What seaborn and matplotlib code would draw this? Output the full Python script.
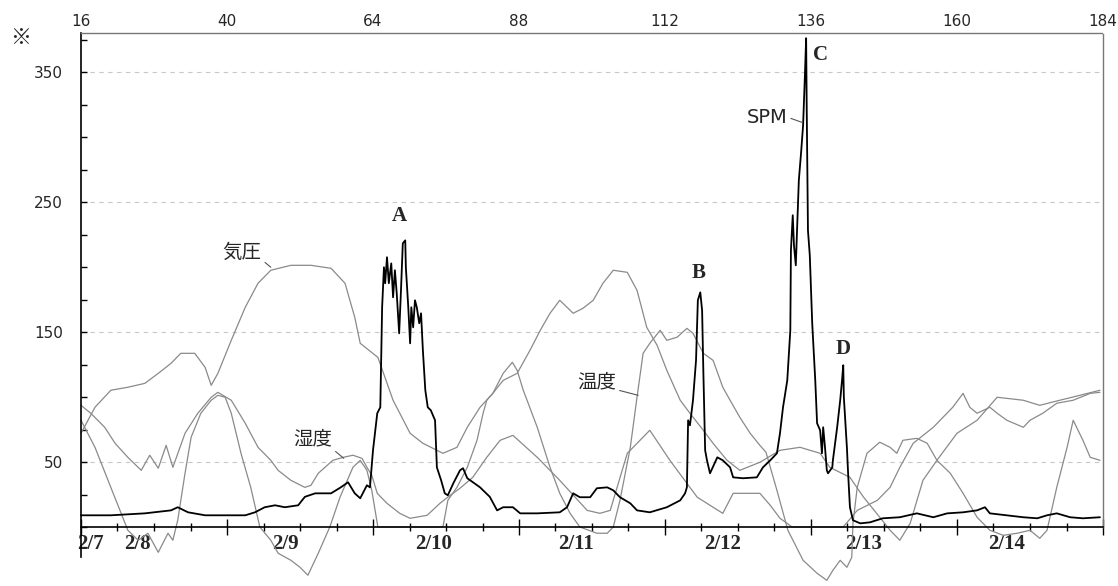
import numpy as np
import matplotlib
matplotlib.use("Agg")
import matplotlib.pyplot as plt
import seaborn as sns

# ---------------- data (hours on the top axis, values on the left axis) ----------------
pressure_h = [16.0, 18.3, 20.9, 23.7, 26.5, 28.7, 30.8, 32.4, 34.7, 36.4,
              37.4, 38.5, 40.7, 43.0, 45.1, 47.2, 50.5, 53.8, 57.1, 59.4,
              61.0, 61.9, 64.8, 67.3, 70.1, 72.2, 75.5, 77.8, 79.5, 81.6,
              83.7, 85.4, 87.7, 89.8, 91.5, 93.1, 94.7, 95.9, 96.9, 98.5,
              100.2, 101.8, 103.5, 105.8, 107.4, 109.0, 110.7, 112.3, 114.5, 116.1,
              118.3, 119.9, 122.2, 124.3, 127.6, 130.9, 134.2, 137.5, 139.1, 142.4,
              144.6, 147.3, 149.0, 150.6, 152.3, 154.4, 156.7, 160.0, 163.3, 166.6,
              170.9, 173.6, 176.9, 180.2, 183.5]
pressure_v = [72.1, 92.1, 105.2, 107.5, 110.5, 118.2, 125.9, 133.6, 133.6, 122.8,
              109.0, 118.2, 143.6, 169.0, 187.5, 197.5, 201.3, 201.3, 199.0, 187.5,
              161.3, 141.3, 130.5, 97.5, 72.1, 64.4, 56.7, 61.3, 76.7, 92.1,
              102.8, 112.8, 118.2, 135.9, 151.3, 164.4, 174.4, 169.0, 164.4, 168.2,
              174.4, 187.5, 197.5, 195.9, 182.1, 153.6, 139.8, 120.5, 97.5, 87.5,
              74.4, 64.4, 51.3, 43.6, 49.8, 59.0, 61.3, 56.7, 45.9, 38.2,
              23.2, 7.5, -2.5, -10.2, 2.8, 35.9, 51.3, 72.1, 82.1, 99.8,
              97.5, 93.6, 97.5, 101.3, 105.2]

temp_h = [16.0, 18.3, 20.9, 22.6, 23.7, 25.4, 27.0, 28.7, 30.3, 31.1,
          31.9, 33.1, 34.1, 35.7, 37.4, 38.5, 39.7, 40.7, 42.3, 43.9,
          45.4, 47.2, 48.4, 50.5, 52.0, 53.3, 55.0, 56.9, 58.6, 60.7,
          61.9, 63.0, 63.8, 64.8, 75.5, 76.3, 77.8, 79.5, 81.1, 82.1,
          82.7, 83.7, 85.4, 86.9, 87.7, 88.7, 91.0, 93.1, 94.7, 96.4,
          98.0, 100.8, 102.5, 103.5, 104.6, 106.3, 107.4, 108.4, 109.5, 111.2,
          112.3, 114.0, 115.6, 116.6, 118.3, 119.9, 121.5, 122.7, 124.3, 126.0,
          127.6, 128.6, 130.4, 132.2, 134.7, 137.0, 138.6, 139.6, 140.8, 141.9,
          142.7, 142.9, 143.6, 145.2, 147.3, 149.0, 150.1, 151.1, 153.4, 155.1,
          156.7, 158.9, 161.0, 163.3, 165.4, 167.6, 169.9, 172.0, 173.6, 174.8,
          176.4, 178.1, 179.1, 180.7, 181.9, 183.5]
temp_v = [82.1, 61.3, 30.5, 10.5, -2.5, -10.2, -4.8, -19.5, -4.8, -10.2,
          5.2, 41.3, 69.0, 87.5, 97.5, 101.3, 99.8, 87.5, 56.7, 30.5,
          0, -10.2, -20.2, -25.6, -31.0, -37.1, -20.2, 0, 23.2, 45.9,
          51.3, 43.6, 28.2, 0, 0, 20.5, 30.5, 45.9, 66.7, 87.5,
          97.5, 102.8, 118.2, 126.7, 120.5, 105.2, 76.7, 45.9, 25.9, 10.5,
          0, -4.8, -4.8, 0, 20.5, 61.3, 99.8, 133.6, 141.3, 151.3,
          143.6, 146.0, 152.8, 149.0, 133.6, 128.2, 107.5, 97.5, 84.4, 72.1,
          62.8, 57.5, 28.2, -2.5, -25.6, -35.6, -41.0, -33.3, -25.6, -31.0,
          -23.3, 2.8, 30.5, 56.7, 65.2, 61.3, 56.7, 66.7, 68.2, 64.4,
          51.3, 41.3, 25.9, 7.5, -2.5, -6.4, -4.8, -2.5, -8.7, -2.5,
          30.5, 61.3, 82.1, 66.7, 53.6, 51.3]

hum_h = [16.0, 17.6, 19.9, 21.6, 23.7, 25.9, 27.3, 28.7, 30.0, 31.1,
         33.1, 35.2, 37.4, 38.5, 40.7, 43.0, 45.1, 47.2, 48.4, 50.5,
         52.8, 53.8, 55.0, 57.4, 59.1, 60.7, 62.2, 63.0, 63.8, 64.7,
         66.3, 68.4, 70.1, 72.9, 75.0, 76.7, 78.3, 80.4, 82.7, 84.9,
         87.0, 91.0, 94.7, 99.2, 101.3, 103.0, 105.8, 109.5, 112.8, 117.3,
         121.5, 123.2, 127.6, 129.3, 130.9, 132.9, 141.3, 143.6, 146.9, 149.0,
         150.6, 152.8, 156.1, 157.7, 159.3, 161.0, 162.1, 163.3, 165.4, 166.6,
         168.2, 170.9, 172.0, 174.1, 176.4, 179.1, 181.9, 183.5]
hum_v = [93.6, 87.5, 76.7, 64.4, 53.6, 43.6, 55.2, 45.2, 62.8, 45.9,
         72.1, 87.5, 99.8, 103.6, 97.5, 79.8, 61.3, 51.3, 43.6, 35.9,
         30.5, 32.1, 41.3, 51.3, 53.6, 55.2, 52.8, 45.9, 39.8, 25.9,
         18.2, 10.5, 6.7, 9.0, 18.2, 24.4, 29.8, 38.2, 53.6, 66.7,
         70.5, 53.6, 35.9, 12.8, 10.5, 12.8, 56.7, 74.4, 51.3, 22.9,
         10.5, 25.9, 25.9, 16.7, 6.7, 0, 0, 12.8, 20.5, 30.5,
         45.9, 64.4, 76.7, 84.4, 92.1, 102.8, 92.1, 87.5, 92.1, 87.5,
         82.1, 76.7, 82.1, 87.5, 95.2, 97.5, 102.8, 103.6]

spm_h = [16.0, 20.9, 26.5, 30.8, 31.9, 33.6, 36.4, 43.0, 44.6, 46.2,
         47.9, 49.5, 51.7, 52.8, 54.5, 57.1, 58.7, 59.9, 61.0, 61.9,
         63.0, 63.5, 64.0, 64.7, 65.2, 65.5, 65.8, 66.0, 66.3, 66.6,
         67.0, 67.3, 67.6, 67.9, 68.3, 68.6, 68.9, 69.3, 69.4, 69.8,
         70.1, 70.3, 70.6, 70.9, 71.2, 71.6, 71.9, 72.2, 72.6, 73.0,
         73.5, 74.2, 74.5, 75.2, 75.8, 76.3, 77.2, 78.3, 78.8, 79.5,
         81.6, 83.2, 84.4, 85.4, 87.0, 88.2, 91.0, 94.7, 95.9, 96.9,
         98.0, 99.7, 100.8, 102.5, 103.5, 104.6, 106.3, 107.4, 109.5, 112.3,
         114.5, 115.3, 115.6, 115.8, 116.1, 116.6, 117.1, 117.4, 117.8, 118.1,
         118.3, 118.6, 118.9, 119.4, 120.6, 121.5, 122.7, 123.2, 124.8, 127.1,
         128.1, 129.3, 130.4, 130.9, 131.4, 132.1, 132.6, 132.7, 133.0, 133.2,
         133.5, 133.7, 134.0, 134.4, 134.7, 135.0, 135.2, 135.3, 135.5, 135.8,
         136.2, 136.7, 137.0, 137.5, 137.8, 138.0, 138.3, 138.6, 138.8, 139.5,
         139.6, 140.3, 140.8, 141.1, 141.3, 141.4, 141.9, 142.1, 142.4, 142.9,
         144.1, 145.7, 147.8, 150.6, 153.4, 156.1, 158.4, 161.0, 163.3, 164.6,
         165.4, 168.2, 170.9, 173.2, 174.8, 176.4, 178.6, 180.7, 183.5]
spm_v = [9.0, 9.0, 10.5, 12.8, 15.2, 11.3, 9.0, 9.0, 11.3, 15.2,
         16.7, 15.2, 16.7, 23.2, 25.9, 25.9, 30.5, 34.4, 25.9, 22.1,
         32.1, 30.5, 59.0, 87.5, 92.1, 169.0, 199.8, 187.5, 207.5, 187.5,
         202.8, 176.7, 197.5, 179.8, 149.0, 182.1, 218.2, 220.5, 199.8, 169.0,
         141.3, 169.0, 153.6, 174.4, 169.0, 156.7, 164.4, 135.9, 105.2, 92.1,
         89.8, 82.1, 45.9, 35.9, 25.9, 24.4, 33.6, 43.6, 45.2, 37.5,
         30.5, 23.2, 12.8, 15.2, 15.2, 10.5, 10.5, 11.3, 15.2, 25.9,
         22.9, 22.9, 29.8, 30.5, 28.2, 22.9, 18.2, 12.8, 11.3, 15.2,
         20.5, 25.9, 30.5, 82.1, 78.2, 97.5, 128.2, 174.4, 180.5, 166.7,
         120.5, 59.0, 51.3, 41.3, 53.6, 51.3, 45.9, 38.2, 37.5, 38.2,
         45.9, 51.3, 56.7, 72.1, 92.1, 112.8, 151.3, 212.8, 239.8, 216.7,
         201.3, 228.2, 266.7, 289.8, 309.0, 347.5, 376.0, 320.5, 228.2, 209.0,
         156.7, 112.8, 79.8, 74.4, 56.7, 76.7, 61.3, 43.6, 41.3, 45.9,
         51.3, 76.7, 97.5, 112.8, 124.4, 99.8, 61.3, 41.3, 15.2, 5.2,
         2.8, 3.6, 6.7, 7.5, 10.5, 7.5, 10.5, 11.3, 12.8, 15.2,
         10.5, 9.0, 7.5, 6.7, 9.0, 10.5, 7.5, 6.7, 7.5]

top_ticks = [16, 40, 64, 88, 112, 136, 160, 184]
y_labels = [50, 150, 250, 350]
date_labels = ["2/7", "2/8", "2/9", "2/10", "2/11", "2/12", "2/13", "2/14"]
date_pos = [17.6, 25.3, 49.6, 74.0, 97.4, 121.4, 144.7, 168.1]

# ---------------- figure ----------------
sns.set_style("white")
plt.rcParams['font.family'] = ['DejaVu Sans', 'Noto Sans CJK JP']

fig = plt.figure(figsize=(11.18, 5.86), dpi=100)
ax = fig.add_axes([81 / 1118, 1 - 527 / 586, 1022 / 1118, 494 / 586])

gray = '#8a8a8a'
for hh, vv in [(pressure_h, pressure_v), (hum_h, hum_v), (temp_h, temp_v)]:
    sns.lineplot(x=hh, y=vv, ax=ax, color=gray, lw=0.9, estimator=None,
                 sort=False, clip_on=False)
sns.lineplot(x=spm_h, y=spm_v, ax=ax, color='black', lw=1.3, estimator=None,
             sort=False, clip_on=False)

ax.set_xlim(16, 184)
ax.set_ylim(0, 380)

# y axis
ax.set_yticks(y_labels)
ax.set_yticks(np.arange(0, 380, 25), minor=True)
ax.tick_params(axis='y', which='both', direction='in', length=4, width=1,
               left=True, labelsize=11, pad=13, color='black')
ax.yaxis.grid(True, which='major', linestyle=(0, (4, 4)), color='#c8c8c8', lw=0.8)
ax.xaxis.grid(False)

# bottom axis ticks (6 h minor, 24 h major)
ax.set_xticks(top_ticks)
ax.set_xticks(np.arange(16, 185, 6), minor=True)
ax.tick_params(axis='x', which='major', direction='inout', length=12, width=1,
               bottom=True, labelbottom=False, color='black')
ax.tick_params(axis='x', which='minor', direction='inout', length=6, width=1,
               bottom=True, color='black')

# date labels
sec = ax.secondary_xaxis('bottom')
sec.set_xticks(date_pos, labels=date_labels)
sec.tick_params(length=0, pad=5)
sec.spines['bottom'].set_visible(False)
for lbl in sec.get_xticklabels():
    lbl.set_fontfamily('Liberation Serif')
    lbl.set_fontweight('bold')
    lbl.set_fontsize(15)

# top hour labels
top = ax.secondary_xaxis('top')
top.set_xticks(top_ticks)
top.tick_params(length=0, pad=3, labelsize=11)
top.spines['top'].set_visible(False)

# spines
for s in ['top', 'right']:
    ax.spines[s].set_linestyle((0, (1, 1)))
    ax.spines[s].set_color('#777777')
    ax.spines[s].set_linewidth(1.0)
ax.spines['left'].set_color('black')
ax.spines['left'].set_linewidth(1.2)
ax.spines['left'].set_bounds(-23, 380)
ax.spines['bottom'].set_color('black')
ax.spines['bottom'].set_linewidth(1.2)

# peak letters
serif = dict(fontfamily='Liberation Serif', fontweight='bold', fontsize=15,
             ha='center', va='center')
ax.text(68.3, 239, 'A', **serif)
ax.text(117.6, 195, 'B', **serif)
ax.text(137.5, 362.8, 'C', **serif)
ax.text(141.3, 136.7, 'D', **serif)

# series labels with leader lines
jp = ['Noto Sans CJK JP', 'DejaVu Sans']
def lab(text, xy, xytext, relpos, fam):
    ax.annotate(text, xy=xy, xytext=xytext, ha='center', va='center',
                fontsize=14, family=fam,
                arrowprops=dict(arrowstyle='-', color='#555555', lw=0.8,
                                shrinkA=0, shrinkB=0, relpos=relpos))

lab('気圧', (47.2, 199.8), (42.5, 211.3), (1.0, 0.15), jp)
lab('湿度', (59.2, 52.8), (54.1, 67.5), (1.0, 0.05), jp)
lab('温度', (107.6, 101.3), (100.8, 111.3), (1.0, 0.15), jp)
lab('SPM', (134.5, 311.3), (128.8, 315.2), (1.0, 0.5), ['DejaVu Sans'])

fig.text(21 / 1118, 1 - 38 / 586, '※', ha='center', va='center', fontsize=15,
         family=jp)

fig.savefig('out.png', dpi=100)
